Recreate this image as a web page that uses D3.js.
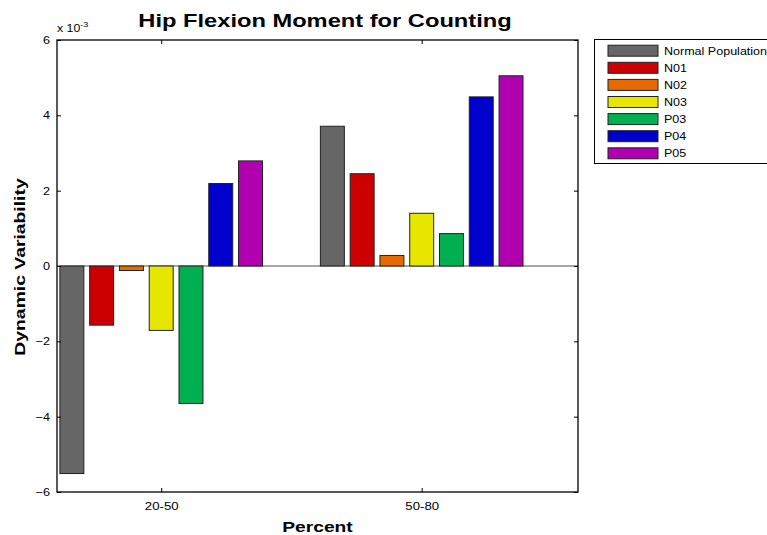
<!DOCTYPE html>
<html>
<head>
<meta charset="utf-8">
<script src="https://cdn.jsdelivr.net/npm/d3@7"></script>
<style>
  body { margin: 0; background: #fff; }
  text { font-family: Arial, "Liberation Sans", sans-serif; }
</style>
</head>
<body>
<div id="chart"></div>
<script>
const groups = ['20-50', '50-80']
const series = ['Normal Population', 'N01', 'N02', 'N03', 'P03', 'P04', 'P05']
const colors = ['#666666', '#cc0000', '#e66a00', '#e6e600', '#00b050', '#0000cc', '#b000b0']
// values in units of 1e-3, one array per group
const group2050 = [-5.51, -1.57, -0.12, -1.71, -3.65, 2.19, 2.79]
const group5080 = [3.71, 2.45, 0.28, 1.40, 0.86, 4.49, 5.05]
const yTicks = [-6, -4, -2, 0, 2, 4, 6]

const values = [group2050, group5080]
const W = 767, H = 535
const m = { left: 57, right: 578, top: 40, bottom: 492 }

const svg = d3.select('#chart').append('svg')
    .attr('width', W).attr('height', H)

// x positions follow matlab's bar: group at 1, 2; xlim 0.6 .. 2.6
const x = d3.scaleLinear().domain([0.6, 2.6]).range([m.left, m.right])
const y = d3.scaleLinear().domain([-6, 6]).range([m.bottom, m.top])
const step = 0.1143, barW = 0.092

const data = []
values.forEach((vals, gi) => {
    vals.forEach((v, si) => {
        data.push({ g: gi + 1, s: si, v: v })
    })
})

// zero baseline
svg.append('line')
    .attr('x1', m.left).attr('x2', m.right)
    .attr('y1', y(0)).attr('y2', y(0))
    .style('stroke', '#888').style('stroke-width', 1.5)

svg.append('g').selectAll('rect')
    .data(data)
    .enter()
    .append('rect')
    .attr('x', d => x(d.g + (d.s - 3) * step - barW / 2))
    .attr('width', d => x(barW) - x(0))
    .attr('y', d => y(Math.max(0, d.v)))
    .attr('height', d => Math.abs(y(d.v) - y(0)))
    .style('fill', d => colors[d.s])
    .style('stroke', '#222')
    .style('stroke-width', 1)

// box
svg.append('rect')
    .attr('x', m.left).attr('y', m.top)
    .attr('width', m.right - m.left).attr('height', m.bottom - m.top)
    .style('fill', 'none').style('stroke', '#000').style('stroke-width', 1.3)

// the figure was stretched sideways, so text gets a horizontal scale
const wide = (sel, k) => sel.each(function () {
    const t = d3.select(this)
    const tx = +t.attr('x') || 0
    t.attr('transform', `translate(${tx * (1 - k)},0) scale(${k},1)`)
})

// y axis, ticks inward
const yAxis = svg.append('g')
    .attr('transform', `translate(${m.left},0)`)
    .call(d3.axisLeft(y).tickValues(yTicks).tickSizeInner(-4).tickSizeOuter(0).tickPadding(7))
yAxis.select('.domain').remove()
yAxis.selectAll('text').style('font-size', '11px').attr('fill', '#000').call(wide, 1.15)

const yAxisR = svg.append('g')
    .attr('transform', `translate(${m.right},0)`)
    .call(d3.axisRight(y).tickValues(yTicks).tickSizeInner(-4).tickSizeOuter(0).tickFormat(''))
yAxisR.select('.domain').remove()

// x axis
const xAxis = svg.append('g')
    .attr('transform', `translate(0,${m.bottom})`)
    .call(d3.axisBottom(x).tickValues([1, 2]).tickFormat((d, i) => groups[i])
        .tickSizeInner(-4).tickSizeOuter(0).tickPadding(10))
xAxis.select('.domain').remove()
xAxis.selectAll('text').style('font-size', '11px').attr('fill', '#000')
    .attr('transform', 'scale(1.2,1)')
xAxis.selectAll('.tick').each(function (d) {
    d3.select(this).select('text').attr('transform', 'scale(1.2,1)')
})

const xAxisT = svg.append('g')
    .attr('transform', `translate(0,${m.top})`)
    .call(d3.axisTop(x).tickValues([1, 2]).tickSizeInner(-4).tickSizeOuter(0).tickFormat(''))
xAxisT.select('.domain').remove()

// exponent label
const ex = svg.append('text')
    .attr('transform', 'translate(57,32) scale(1.12,1)')
    .style('font-size', '11px')
ex.append('tspan').text('x 10')
ex.append('tspan').attr('dy', -5).style('font-size', '8px').text('-3')

// titles
svg.append('text')
    .attr('transform', 'translate(325,27) scale(1.28,1)')
    .attr('text-anchor', 'middle')
    .style('font-size', '18.5px').style('font-weight', 'bold')
    .text('Hip Flexion Moment for Counting')

svg.append('text')
    .attr('transform', `translate(${(m.left + m.right) / 2},532) scale(1.28,1)`)
    .attr('text-anchor', 'middle')
    .style('font-size', '15px').style('font-weight', 'bold')
    .text('Percent')

svg.append('text')
    .attr('transform', `translate(25,${y(0) + 1}) rotate(-90) scale(1.29,1)`)
    .attr('text-anchor', 'middle')
    .style('font-size', '15px').style('font-weight', 'bold')
    .text('Dynamic Variability')

// legend
svg.append('rect')
    .attr('x', 594.5).attr('y', 39.5).attr('width', 180).attr('height', 124)
    .style('fill', '#fff').style('stroke', '#000').style('stroke-width', 1)
series.forEach((s, i) => {
    const cy = 50.7 + i * 17.1
    svg.append('rect')
        .attr('x', 608).attr('y', cy - 5.5).attr('width', 50).attr('height', 11)
        .style('fill', colors[i]).style('stroke', '#222').style('stroke-width', 1)
    svg.append('text')
        .attr('transform', `translate(664,${cy + 4}) scale(1.14,1)`)
        .style('font-size', '11px')
        .text(s)
})
</script>
</body>
</html>
